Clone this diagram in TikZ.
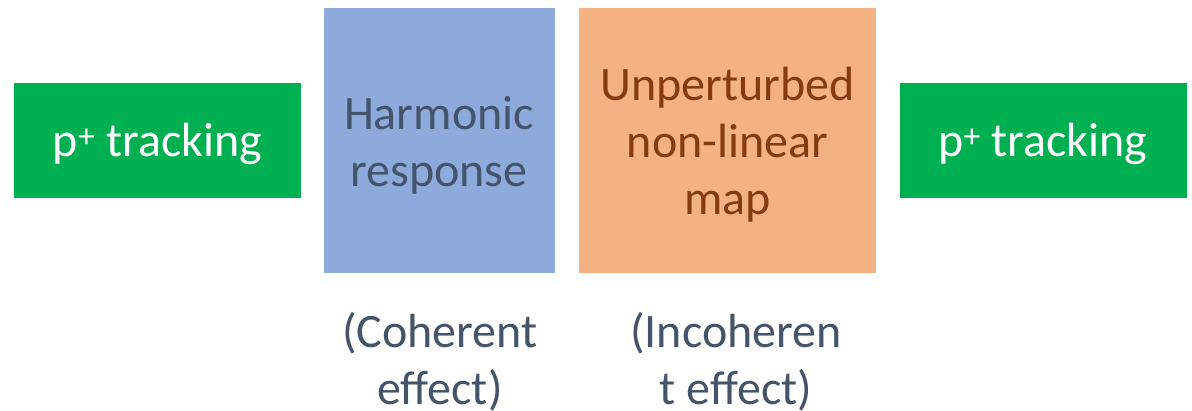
\documentclass[tikz,border=0pt]{standalone}
\usepackage{fontspec}
\setmainfont{Carlito}
\definecolor{pgreen}{HTML}{00B050}
\definecolor{pblue}{HTML}{8EA9DB}
\definecolor{porange}{HTML}{F4B183}
\definecolor{slate}{HTML}{44546A}
\definecolor{brownt}{HTML}{843C0C}
\begin{document}
\begin{tikzpicture}[x=1pt,y=-1pt]
\tikzset{
  box/.style={draw=none, inner sep=0pt},
  greenbox/.style={box, fill=pgreen, minimum width=287pt, minimum height=115pt},
  tallbox/.style={box, minimum height=265pt},
  txt/.style={inner sep=0pt, align=center, font=\fontsize{48}{57}\selectfont},
  note/.style={txt, text=slate}
}
\useasboundingbox (0,0) rectangle (1192,411);
\node[greenbox] (g1) at (157.5,140.5) {};
\node[tallbox, fill=pblue, minimum width=231pt] (hr) at (439,140.5) {};
\node[tallbox, fill=porange, minimum width=297pt] (um) at (727.5,140.5) {};
\node[greenbox] (g2) at (1043,140.5) {};
\node[txt, text=white] (g1t) at ([yshift=-3pt]g1.center) {p\textsuperscript{+} tracking};
\node[txt, text=slate] (hrt) at ([yshift=-5pt]hr.center) {Harmonic\\response};
\node[txt, text=brownt] (umt) at ([yshift=-4.5pt]um.center) {Unperturbed\\non-linear\\map};
\node[txt, text=white] (g2t) at ([yshift=-3pt]g2.center) {p\textsuperscript{+} tracking};
\node[note] (c1) at (440,362) {(Coherent\\effect)};
\node[note] (c2) at (736,362) {(Incoheren\\t effect)};
\end{tikzpicture}
\end{document}
